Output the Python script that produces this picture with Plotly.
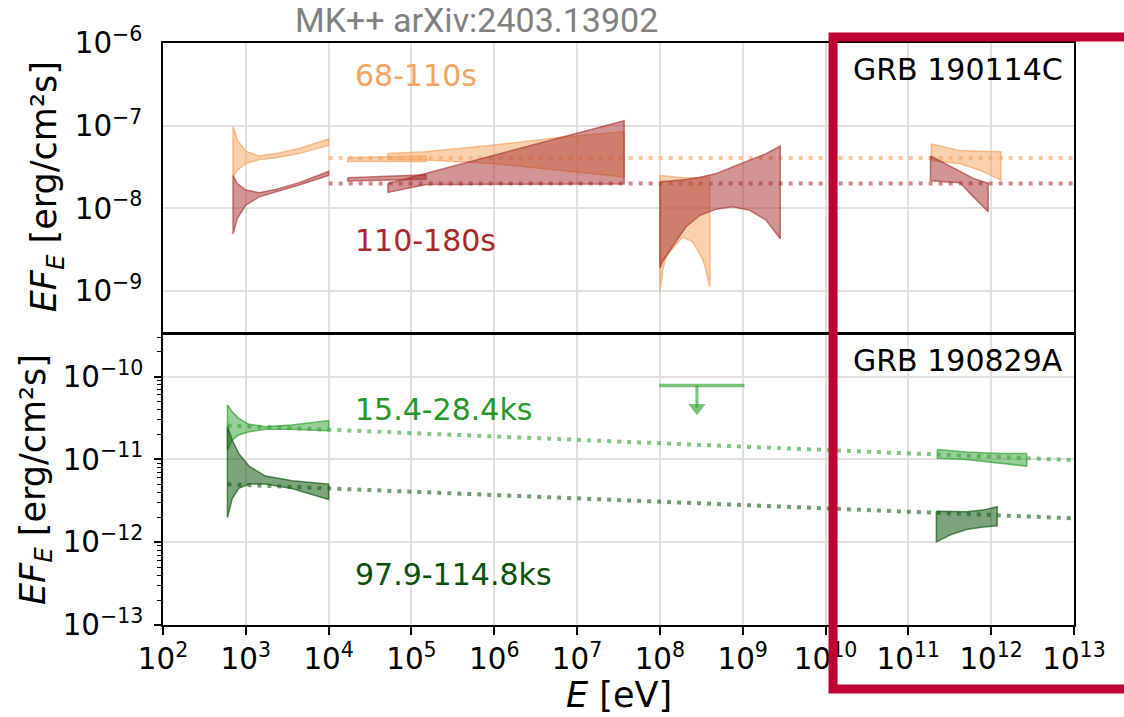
import plotly.graph_objects as go

FONT = "DejaVu Sans"

# ---------------- GRB 190114C (top panel) ----------------
# 68-110 s (orange) and 110-180 s (brown) power-law bow-ties, E in eV, EF_E in erg/cm2/s
xrt_e = [700, 790, 1000, 1450, 2300, 4400, 10000]
xrt_hi_early = [9.7e-8, 6.7e-8, 4.9e-8, 4.3e-8, 4.6e-8, 5.3e-8, 6.9e-8]
xrt_lo_early = [2.4e-8, 2.9e-8, 3.5e-8, 3.9e-8, 4.1e-8, 4.6e-8, 5.8e-8]
xrt_hi_late = [2.5e-8, 2.0e-8, 1.67e-8, 1.55e-8, 1.7e-8, 2.05e-8, 2.8e-8]
xrt_lo_late = [4.9e-9, 7.6e-9, 1.1e-8, 1.38e-8, 1.59e-8, 1.92e-8, 2.5e-8]

bat_e = [1.7e4, 1.5e5]
bat_hi_early = [4.1e-8, 4.3e-8]
bat_lo_early = [3.7e-8, 3.7e-8]
bat_hi_late = [2.35e-8, 2.55e-8]
bat_lo_late = [2.15e-8, 2.25e-8]

gbm_e = [5.2e4, 1.5e5, 9.5e5, 6.1e6, 3.7e7]
gbm_hi_early = [4.6e-8, 4.85e-8, 5.8e-8, 7.2e-8, 8.5e-8]
gbm_lo_early = [3.9e-8, 3.85e-8, 3.5e-8, 2.9e-8, 2.4e-8]
gbm_hi_late = [2.0e-8, 2.65e-8, 4.3e-8, 7.1e-8, 1.15e-7]
gbm_lo_late = [1.56e-8, 1.95e-8, 1.97e-8, 1.97e-8, 1.97e-8]

lat_e_early = [1.0e8, 1.08e8, 1.19e8, 1.43e8, 1.89e8, 2.49e8, 3.3e8, 3.6e8, 4.0e8]
lat_hi_early = [2.5e-8, 2.48e-8, 2.45e-8, 2.4e-8, 2.35e-8, 2.35e-8, 2.35e-8, 2.38e-8, 2.4e-8]
lat_lo_early = [9.8e-10, 1.8e-9, 2.6e-9, 3.3e-9, 4.5e-9, 3.95e-9, 2.4e-9, 1.8e-9, 1.13e-9]
lat_e_late = [1.0e8, 1.08e8, 1.43e8, 2.07e8, 3.0e8, 4.8e8, 7.6e8, 1.21e9, 1.92e9, 2.84e9]
lat_hi_late = [2.1e-8, 2.12e-8, 2.16e-8, 2.24e-8, 2.37e-8, 2.65e-8, 3.2e-8, 3.85e-8, 4.6e-8, 5.7e-8]
lat_lo_late = [1.9e-9, 2.3e-9, 3.5e-9, 6.0e-9, 8.2e-9, 9.8e-9, 1.05e-8, 9.5e-9, 7.2e-9, 4.3e-9]

vhe_e_early = [1.9e11, 4.2e11, 7.3e11, 1.31e12]
vhe_hi_early = [6.0e-8, 5.0e-8, 4.9e-8, 4.85e-8]
vhe_lo_early = [3.8e-8, 3.5e-8, 2.9e-8, 2.2e-8]
vhe_e_late = [1.85e11, 4.2e11, 6.1e11, 9.2e11]
vhe_hi_late = [4.3e-8, 2.78e-8, 2.31e-8, 2.01e-8]
vhe_lo_late = [2.16e-8, 2.05e-8, 1.38e-8, 9.1e-9]

# flat model lines
model_e_top = [1e4, 1e13]
model_early = [4.06e-8, 4.06e-8]
model_late = [2.0e-8, 2.0e-8]

# ---------------- GRB 190829A (bottom panel) ----------------
# 15.4-28.4 ks (light green) and 97.9-114.8 ks (dark green)
xray_e = [600, 685, 820, 1090, 1730, 3600, 10000]
xray_hi_1 = [4.55e-11, 3.77e-11, 3.13e-11, 2.65e-11, 2.48e-11, 2.6e-11, 2.94e-11]
xray_lo_1 = [1.3e-11, 1.71e-11, 1.97e-11, 2.16e-11, 2.31e-11, 2.31e-11, 2.22e-11]
xray_hi_2 = [2.48e-11, 1.71e-11, 1.18e-11, 8.3e-12, 6.29e-12, 5.52e-12, 5.03e-12]
xray_lo_2 = [1.99e-12, 3.37e-12, 4.46e-12, 5.03e-12, 5.03e-12, 4.46e-12, 3.28e-12]

hess_e_1 = [2.24e11, 5.0e11, 1.27e12, 2.68e12]
hess_hi_1 = [1.32e-11, 1.23e-11, 1.18e-11, 1.18e-11]
hess_lo_1 = [1.03e-11, 1.0e-11, 9.1e-12, 8.3e-12]
hess_e_2 = [2.18e11, 3.17e11, 5.0e11, 8.0e11, 1.18e12]
hess_hi_2 = [2.37e-12, 2.33e-12, 2.33e-12, 2.44e-12, 2.68e-12]
hess_lo_2 = [1.01e-12, 1.22e-12, 1.42e-12, 1.53e-12, 1.58e-12]

# LAT upper limit (15.4-28.4 ks)
ul_e = [9.8e7, 1.05e9]
ul_flux = 7.8e-11
ul_arrow_e = 2.8e8
ul_arrow_flux = 4.2e-11

# power-law model lines
model_e_bot = [600, 1e13]
model_1 = [2.56e-11, 9.8e-12]
model_2 = [5.0e-12, 1.94e-12]

ORANGE = (244, 164, 96)
BROWN = (165, 42, 42)
LGREEN = (50, 160, 50)
DGREEN = (20, 90, 20)


def rgba(c, a):
    return f"rgba({c[0]},{c[1]},{c[2]},{a})"


fig = go.Figure()


def bowtie(e, hi, lo, col, xa, ya, fa=0.5, la=0.7):
    x = list(e) + list(e)[::-1] + [e[0]]
    y = list(hi) + list(lo)[::-1] + [hi[0]]
    fig.add_trace(go.Scatter(
        x=x, y=y, mode="lines", fill="toself",
        fillcolor=rgba(col, fa), line=dict(color=rgba(col, la), width=1.5),
        xaxis=xa, yaxis=ya, hoverinfo="skip", showlegend=False))


def dotted(e, f, col, a, xa, ya):
    fig.add_trace(go.Scatter(
        x=e, y=f, mode="lines",
        line=dict(color=rgba(col, a), width=4, dash="4px,6px"),
        xaxis=xa, yaxis=ya, hoverinfo="skip", showlegend=False))


# top panel
dotted(model_e_top, model_early, ORANGE, 0.6, "x", "y")
dotted(model_e_top, model_late, BROWN, 0.55, "x", "y")
for e, hi, lo in [(xrt_e, xrt_hi_early, xrt_lo_early),
                  (bat_e, bat_hi_early, bat_lo_early),
                  (gbm_e, gbm_hi_early, gbm_lo_early),
                  (lat_e_early, lat_hi_early, lat_lo_early),
                  (vhe_e_early, vhe_hi_early, vhe_lo_early)]:
    bowtie(e, hi, lo, ORANGE, "x", "y")
for e, hi, lo in [(xrt_e, xrt_hi_late, xrt_lo_late),
                  (bat_e, bat_hi_late, bat_lo_late),
                  (gbm_e, gbm_hi_late, gbm_lo_late),
                  (lat_e_late, lat_hi_late, lat_lo_late),
                  (vhe_e_late, vhe_hi_late, vhe_lo_late)]:
    bowtie(e, hi, lo, BROWN, "x", "y", la=0.6)

# bottom panel
dotted(model_e_bot, model_1, LGREEN, 0.6, "x2", "y2")
dotted(model_e_bot, model_2, DGREEN, 0.6, "x2", "y2")
bowtie(xray_e, xray_hi_1, xray_lo_1, LGREEN, "x2", "y2")
bowtie(hess_e_1, hess_hi_1, hess_lo_1, LGREEN, "x2", "y2")
bowtie(xray_e, xray_hi_2, xray_lo_2, DGREEN, "x2", "y2", fa=0.55)
bowtie(hess_e_2, hess_hi_2, hess_lo_2, DGREEN, "x2", "y2", fa=0.55)

fig.add_trace(go.Scatter(
    x=ul_e, y=[ul_flux, ul_flux], mode="lines",
    line=dict(color=rgba(LGREEN, 0.65), width=3.5),
    xaxis="x2", yaxis="y2", hoverinfo="skip", showlegend=False))
fig.add_trace(go.Scatter(
    x=[ul_arrow_e, ul_arrow_e], y=[ul_flux, ul_arrow_flux], mode="lines",
    line=dict(color=rgba(LGREEN, 0.65), width=3),
    xaxis="x2", yaxis="y2", hoverinfo="skip", showlegend=False))
fig.add_trace(go.Scatter(
    x=[ul_arrow_e], y=[ul_arrow_flux], mode="markers",
    marker=dict(symbol="triangle-down", size=15, color=rgba(LGREEN, 0.65),
                line=dict(width=0)),
    xaxis="x2", yaxis="y2", hoverinfo="skip", showlegend=False))

# power-format labels on log axes are drawn at 1.25x the tick font size
axis_common = dict(
    type="log", showline=True, linecolor="black", linewidth=1.8, mirror=True,
    showgrid=True, gridcolor="rgb(224,224,224)", gridwidth=1.5, zeroline=False,
    dtick=1, exponentformat="power",
    tickfont=dict(family=FONT, size=23.5, color="black"),
)

fig.update_layout(
    width=1124, height=717,
    margin=dict(l=163, r=50, t=43, b=92),
    paper_bgcolor="white", plot_bgcolor="white",
    font=dict(family=FONT, color="black"),
    showlegend=False,
    xaxis=dict(**axis_common, range=[2, 13], domain=[0, 1], anchor="y",
               showticklabels=False, ticks=""),
    yaxis=dict(**axis_common, range=[-9.49, -6], domain=[0.504, 1], anchor="x",
               ticks="", ticklabelstandoff=14),
    xaxis2=dict(**axis_common, range=[2, 13], domain=[0, 1], anchor="y2",
                ticks="outside", ticklen=8, tickwidth=1.5, tickcolor="black",
                ticklabelstandoff=0),
    yaxis2=dict(**axis_common, range=[-13, -9.5], domain=[0, 0.498], anchor="x2",
                ticks="outside", ticklen=7, tickwidth=1.5, tickcolor="black",
                ticklabelstandoff=6,
                minor=dict(ticks="outside", ticklen=4, tickwidth=1,
                           tickcolor="black", showgrid=False)),
)

ann = []
# y-axis titles (the lower one sits further out, past the wider tick labels)
ytitle = "<i>EF</i><sub><i>E</i></sub> [erg/cm²s]"
for xc, yc in ((-0.127, 0.7526), (-0.1405, 0.249)):
    ann.append(dict(text=ytitle, xref="paper", yref="paper", x=xc, y=yc,
                    xanchor="center", yanchor="middle", textangle=-90,
                    showarrow=False, font=dict(family=FONT, size=35, color="black")))
# x-axis title
ann.append(dict(text="<i>E</i> [eV]", xref="paper", yref="paper", x=0.5, y=-0.121,
                xanchor="center", yanchor="middle", showarrow=False,
                font=dict(family=FONT, size=35, color="black")))
# burst names
ann.append(dict(text="GRB 190114C", xref="paper", yref="paper", x=0.99, y=0.955,
                xanchor="right", yanchor="middle", showarrow=False,
                font=dict(family=FONT, size=30, color="black")))
ann.append(dict(text="GRB 190829A", xref="paper", yref="paper", x=0.99, y=0.455,
                xanchor="right", yanchor="middle", showarrow=False,
                font=dict(family=FONT, size=30, color="black")))
# time-interval labels
for txt, yc, col in [("68-110s", 0.945, ORANGE),
                     ("110-180s", 0.6607, BROWN),
                     ("15.4-28.4ks", 0.3711, (40, 150, 40)),
                     ("97.9-114.8ks", 0.0868, (10, 80, 10))]:
    ann.append(dict(text=txt, xref="paper", yref="paper", x=0.209, y=yc,
                    xanchor="left", yanchor="middle", showarrow=False,
                    font=dict(family=FONT, size=30, color=rgba(col, 1))))
# credit line
ann.append(dict(text="MK++ arXiv:2403.13902", xref="paper", yref="paper",
                x=0.344, y=1.04, xanchor="center", yanchor="middle", showarrow=False,
                font=dict(family="Roboto", size=34, color="rgb(128,128,128)")))
fig.update_layout(annotations=ann)

# highlight frame around the very-high-energy band
fig.add_shape(type="rect", xref="paper", yref="paper",
              x0=0.7355, x1=1.08, y0=-0.11, y1=1.0103,
              line=dict(color="rgb(192,0,48)", width=9), layer="above")

fig.write_html("out.html")
